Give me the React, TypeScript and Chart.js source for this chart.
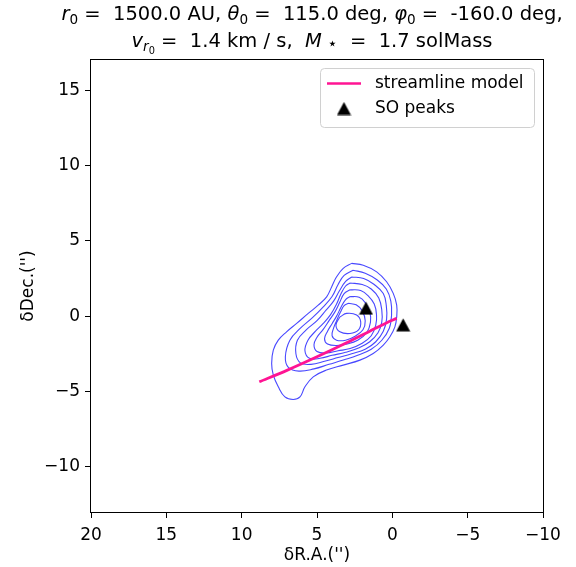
import React, { useEffect, useRef } from 'react';
import { Chart, registerables } from 'chart.js';

Chart.register(...registerables);

// ---- data ----
const xTicks = [20, 15, 10, 5, 0, -5, -10];
const yTicks = [15, 10, 5, 0, -5, -10];
const xMin = -10;
const xMax = 20;
const yMin = -13;
const yMax = 17;

const streamX = [8.83, 7.0, 5.0, 3.0, 1.5, 0.4, -0.29];
const streamY = [-4.36, -3.6, -2.7, -1.75, -1.0, -0.45, -0.15];

const peaksX = [1.75, -0.72];
const peaksY = [0.53, -0.58];

const contour1 = [[2.70,3.50],[1.93,3.38],[1.04,2.94],[0.38,2.28],[-0.06,1.51],[-0.29,0.73],[-0.29,-0.05],[-0.17,-0.71],[0.16,-1.37],[0.60,-1.92],[1.27,-2.48],[2.15,-2.92],[3.26,-3.25],[4.37,-3.58],[5.25,-4.03],[5.80,-4.69],[6.13,-5.36],[6.58,-5.53],[7.13,-5.36],[7.57,-4.69],[7.90,-3.92],[8.01,-3.14],[7.90,-2.26],[7.57,-1.59],[7.02,-1.04],[6.35,-0.48],[5.58,0.18],[4.92,0.73],[4.36,1.28],[4.03,1.94],[3.70,2.61],[3.26,3.17]];
const contour2 = [[2.6,3.05],[1.8,2.85],[1.0,2.4],[0.4,1.8],[0.1,1.0],[0.05,0.1],[0.2,-0.8],[0.7,-1.6],[1.4,-2.2],[2.3,-2.6],[3.2,-2.9],[4.2,-3.2],[5.2,-3.5],[6.2,-3.65],[6.9,-3.4],[7.1,-2.7],[6.8,-1.6],[6.1,-0.8],[5.3,-0.1],[4.6,0.6],[4.0,1.3],[3.6,2.1],[3.2,2.7]];
const contour3 = [[2.7,2.6],[1.9,2.5],[1.2,2.1],[0.6,1.5],[0.4,0.7],[0.38,-0.2],[0.6,-1.0],[1.1,-1.7],[1.8,-2.2],[2.7,-2.5],[3.6,-2.75],[4.5,-3.0],[5.4,-3.2],[6.1,-3.1],[6.4,-2.5],[6.3,-1.6],[5.7,-0.9],[5.0,-0.3],[4.4,0.4],[3.9,1.0],[3.5,1.7],[3.1,2.3]];
const contour4 = [[2.8,2.2],[2.0,2.1],[1.4,1.8],[0.9,1.2],[0.7,0.4],[0.7,-0.4],[0.95,-1.1],[1.5,-1.7],[2.2,-2.1],[3.1,-2.4],[4.0,-2.6],[4.8,-2.8],[5.5,-2.8],[5.8,-2.3],[5.6,-1.6],[5.1,-1.0],[4.6,-0.5],[4.1,0.1],[3.7,0.8],[3.4,1.5],[3.1,2.0]];
const contour5 = [[2.8,1.75],[2.1,1.7],[1.6,1.35],[1.2,0.8],[1.05,0.1],[1.1,-0.6],[1.4,-1.3],[2.0,-1.8],[2.8,-2.15],[3.6,-2.3],[4.4,-2.45],[5.0,-2.35],[5.2,-1.9],[5.0,-1.4],[4.6,-0.9],[4.2,-0.3],[3.8,0.3],[3.5,0.9],[3.2,1.5]];
const contour6 = [[2.8,1.3],[2.2,1.25],[1.8,0.9],[1.5,0.3],[1.45,-0.4],[1.7,-1.1],[2.3,-1.6],[3.0,-1.85],[3.7,-1.95],[4.3,-1.85],[4.5,-1.5],[4.3,-1.0],[4.0,-0.5],[3.7,0.0],[3.4,0.6],[3.1,1.1]];
const contour7 = [[2.9,0.85],[2.4,0.75],[2.0,0.35],[1.8,-0.3],[1.95,-0.9],[2.5,-1.35],[3.1,-1.6],[3.7,-1.6],[4.0,-1.3],[3.9,-0.8],[3.7,-0.3],[3.45,0.25],[3.2,0.7]];
const contour8 = [[3.48,-0.05],[3.03,0.18],[2.37,0.07],[2.10,-0.38],[2.26,-0.93],[2.81,-1.15],[3.48,-1.04],[3.74,-0.60]];

const contours = [contour1, contour2, contour3, contour4, contour5, contour6, contour7, contour8];

const titleLine1 = [['r','i'],['0','s'],[' =  1500.0 AU, ','n'],['θ','i'],['0','s'],[' =  115.0 deg, ','n'],['φ','i'],['0','s'],[' =  -160.0 deg,','n']];
const titleLine2 = [['v','i'],['r','si'],['0','ss'],[' =  1.4 km / s,  ','n'],['M','i'],[' ⋆','st'],['  =  1.7 solMass','n']];
const xLabel = 'δR.A.(\'\')';
const yLabel = 'δDec.(\'\')';
const legendLabels = ['streamline model', 'SO peaks'];

const FONT = '"DejaVu Sans", sans-serif';
const PINK = '#ff1493';
const BLUE = 'rgba(0,0,255,0.72)';
const FS = 17;

function makeTriangle(w: number, h: number) {
  const c = document.createElement('canvas');
  c.width = w;
  c.height = h;
  const g = c.getContext('2d')!;
  g.fillStyle = '#000';
  g.beginPath();
  g.moveTo(w / 2, 0.5);
  g.lineTo(w - 0.5, h - 0.5);
  g.lineTo(0.5, h - 0.5);
  g.closePath();
  g.fill();
  return c;
}

function drawSegments(ctx: CanvasRenderingContext2D, segs: string[][], cx: number, baseY: number, size: number) {
  const fontFor = (k: string) => {
    if (k === 'i') return `italic ${size}px ${FONT}`;
    if (k === 's') return `${(size * 0.7).toFixed(1)}px ${FONT}`;
    if (k === 'st') return `${(size * 0.85).toFixed(1)}px ${FONT}`;
    if (k === 'si') return `italic ${(size * 0.7).toFixed(1)}px ${FONT}`;
    if (k === 'ss') return `${(size * 0.5).toFixed(1)}px ${FONT}`;
    return `${size}px ${FONT}`;
  };
  const offFor = (k: string) => {
    if (k === 's' || k === 'si') return size * 0.22;
    if (k === 'st') return size * 0.08;
    if (k === 'ss') return size * 0.38;
    return 0;
  };
  let total = 0;
  const widths: number[] = [];
  for (const [t, k] of segs) {
    ctx.font = fontFor(k);
    const w = ctx.measureText(t).width;
    widths.push(w);
    total += w;
  }
  let x = cx - total / 2;
  ctx.textAlign = 'left';
  ctx.textBaseline = 'alphabetic';
  segs.forEach(([t, k], i) => {
    ctx.font = fontFor(k);
    ctx.fillText(t, x, baseY + offFor(k));
    x += widths[i];
  });
}

const decorPlugin = {
  id: 'decor',
  afterDraw(chart: any) {
    const ctx: CanvasRenderingContext2D = chart.ctx;
    const ca = chart.chartArea;
    ctx.save();
    // frame
    ctx.strokeStyle = '#000';
    ctx.lineWidth = 1;
    ctx.strokeRect(Math.round(ca.left) - 0.5, Math.round(ca.top) - 0.5, Math.round(ca.right - ca.left) + 1, Math.round(ca.bottom - ca.top) + 1);

    // title
    ctx.fillStyle = '#000';
    const cx = (ca.left + ca.right) / 2;
    drawSegments(ctx, titleLine1, cx - 5, 20, 19.5);
    drawSegments(ctx, titleLine2, cx - 5, 47, 19.5);

    // axis labels
    ctx.font = `${FS}px ${FONT}`;
    ctx.textAlign = 'center';
    ctx.textBaseline = 'alphabetic';
    ctx.fillText(xLabel, cx, 560);
    ctx.save();
    ctx.translate(33, (ca.top + ca.bottom) / 2);
    ctx.rotate(-Math.PI / 2);
    ctx.fillText(yLabel, 0, 0);
    ctx.restore();

    // legend
    const pad = FS * 0.5;
    const bw = 214;
    const bh = 59;
    const bx = ca.right - pad - bw;
    const by = ca.top + pad;
    ctx.beginPath();
    const r = 4;
    ctx.moveTo(bx + r, by);
    ctx.arcTo(bx + bw, by, bx + bw, by + bh, r);
    ctx.arcTo(bx + bw, by + bh, bx, by + bh, r);
    ctx.arcTo(bx, by + bh, bx, by, r);
    ctx.arcTo(bx, by, bx + bw, by, r);
    ctx.closePath();
    ctx.fillStyle = 'rgba(255,255,255,0.8)';
    ctx.fill();
    ctx.strokeStyle = '#d0d0d0';
    ctx.lineWidth = 1;
    ctx.stroke();

    const hx0 = bx + 6.5;
    const hx1 = hx0 + 34;
    const y1 = by + 15;
    const y2 = by + 40;
    ctx.strokeStyle = PINK;
    ctx.lineWidth = 2.5;
    ctx.beginPath();
    ctx.moveTo(hx0, y1);
    ctx.lineTo(hx1, y1);
    ctx.stroke();
    const tri = makeTriangle(15, 14);
    ctx.drawImage(tri, (hx0 + hx1) / 2 - 7.5, y2 - 7);
    ctx.fillStyle = '#000';
    ctx.font = `${FS}px ${FONT}`;
    ctx.textAlign = 'left';
    ctx.textBaseline = 'middle';
    ctx.fillText(legendLabels[0], hx1 + 14, y1);
    ctx.fillText(legendLabels[1], hx1 + 14, y2);
    ctx.restore();
  },
};

export default function App() {
  const ref = useRef<HTMLCanvasElement | null>(null);
  useEffect(() => {
    if (!ref.current) return;
    const tri = makeTriangle(15, 14);
    const datasets: any[] = [
      {
        label: legendLabels[1],
        data: peaksX.map((x, i) => ({ x, y: peaksY[i] })),
        pointStyle: tri,
        pointRadius: 7,
        showLine: false,
      },
      {
        label: legendLabels[0],
        data: streamX.map((x, i) => ({ x, y: streamY[i] })),
        showLine: true,
        borderColor: PINK,
        borderWidth: 2.8,
        pointRadius: 0,
        tension: 0.3,
      },
      ...contours.map((c, i) => ({
        label: 'contour' + (i + 1),
        data: [...c, c[0]].map(([x, y]) => ({ x, y })),
        showLine: true,
        borderColor: BLUE,
        borderWidth: 1.1,
        pointRadius: 0,
        tension: 0.4,
      })),
    ];
    const chart = new Chart(ref.current, {
      type: 'scatter',
      data: { datasets },
      options: {
        responsive: false,
        animation: false,
        devicePixelRatio: 1,
        layout: { padding: { top: 60, right: 33, left: 0, bottom: 0 } },
        plugins: { legend: { display: false }, tooltip: { enabled: false }, title: { display: false } },
        scales: {
          x: {
            type: 'linear',
            min: xMin,
            max: xMax,
            reverse: true,
            afterBuildTicks: (s: any) => { s.ticks = xTicks.map((v) => ({ value: v })); },
            afterFit: (s: any) => { s.height = 55; },
            grid: { drawOnChartArea: false, drawTicks: true, tickLength: 6, color: '#000', lineWidth: 1 },
            border: { display: false },
            ticks: {
              color: '#000',
              padding: 7,
              maxRotation: 0,
              autoSkip: false,
              font: { family: FONT, size: FS },
              callback: (v: any) => String(v).replace('-', '\u2212'),
            },
          },
          y: {
            type: 'linear',
            min: yMin,
            max: yMax,
            afterBuildTicks: (s: any) => { s.ticks = yTicks.map((v) => ({ value: v })); },
            afterFit: (s: any) => { s.width = 91; },
            grid: { drawOnChartArea: false, drawTicks: true, tickLength: 6, color: '#000', lineWidth: 1 },
            border: { display: false },
            ticks: {
              color: '#000',
              padding: 5,
              autoSkip: false,
              font: { family: FONT, size: FS },
              callback: (v: any) => String(v).replace('-', '\u2212'),
            },
          },
        },
      },
      plugins: [decorPlugin],
    });
    return () => chart.destroy();
  }, []);
  return (
    <div style={{ position: 'fixed', left: 0, top: 0, width: 576, height: 567, background: '#fff' }}>
      <canvas ref={ref} width={576} height={567} style={{ width: 576, height: 567, display: 'block' }} />
    </div>
  );
}
